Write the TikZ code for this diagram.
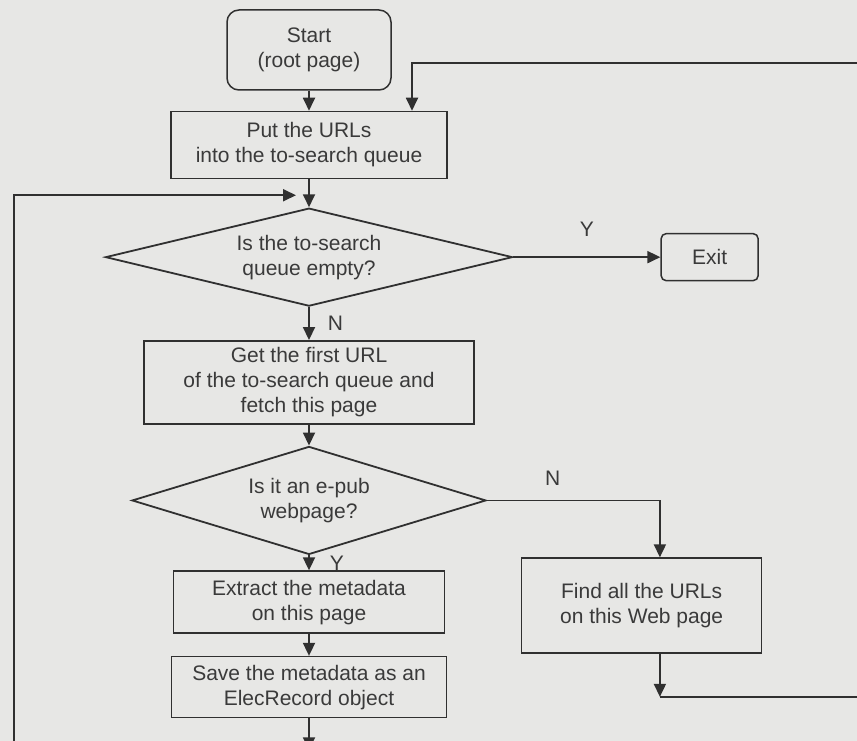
\documentclass[tikz,border=0pt]{standalone}
\usepackage{fontspec}
\setmainfont{Liberation Sans}
\usepackage{tikz}
\usetikzlibrary{shapes.geometric, arrows.meta, positioning, calc}
\definecolor{paperbg}{HTML}{E7E7E5}
\definecolor{inkline}{HTML}{303030}
\definecolor{inktext}{HTML}{3A3A3A}
\newcommand{\chartfont}{\fontsize{21}{25}\selectfont}
\tikzstyle{terminal} = [rectangle, rounded corners=12pt, draw=inkline, line width=1.5pt, inner sep=0pt, align=center, text=inktext, font=\chartfont]
\tikzstyle{process} = [rectangle, draw=inkline, line width=1.5pt, inner sep=0pt, align=center, text=inktext, font=\chartfont]
\tikzstyle{decision} = [diamond, draw=inkline, line width=1.8pt, inner sep=0pt, align=center, text=inktext, font=\chartfont]
\tikzstyle{arrow} = [line width=1.8pt, -{Triangle[length=13pt, width=12pt]}, color=inkline]
\tikzstyle{answer} = [inner sep=0pt, text=inktext, font=\chartfont]

\begin{document}
\begin{tikzpicture}[x=1pt, y=1pt]
    % Page
    \useasboundingbox[fill=paperbg] (0,0) rectangle (857,-741);
    \clip (0,0) rectangle (857,-741);

    % Nodes
    \node[terminal, minimum width=164pt, minimum height=80pt] (start) at (309,-50) {Start\\(root page)};
    \node[process, below=20pt of start, minimum width=276pt, minimum height=67pt] (put) {Put the URLs\\into the to-search queue};
    \node[decision, below=28pt of put, minimum width=407pt, minimum height=98pt, aspect=4.15] (empty) {Is the to-search\\queue empty?};
    \node[terminal, right=147pt of empty, rounded corners=5pt, minimum width=97pt, minimum height=47pt] (exit) {Exit};
    \node[process, below=33pt of empty, minimum width=330pt, minimum height=83pt] (fetch) {Get the first URL\\of the to-search queue and\\fetch this page};
    \node[decision, below=21pt of fetch, minimum width=354pt, minimum height=108pt, aspect=3.28] (epub) {Is it an e-pub\\webpage?};
    \node[process, below=15pt of epub, minimum width=271pt, minimum height=62pt] (extract) {Extract the metadata\\on this page};
    \node[process, below=22pt of extract, minimum width=275pt, minimum height=61pt] (save) {Save the metadata as an\\ElecRecord object};
    \node[process, anchor=north west, minimum width=240pt, minimum height=95pt] (find) at ($(epub.east |- epub.south)+(34,-2)$) {Find all the URLs\\on this Web page};

    % Loop points
    \coordinate (nturn) at ($(epub.east)+(173,0)$);
    \coordinate (findtip) at ($(nturn |- find.south)+(0,-43)$);
    \coordinate (toploop) at ($(put.north)+(103,48)$);
    \coordinate (savetip) at ($(save.south)+(0,-32)$);
    \coordinate (leftloop) at ($(empty.north)+(-295,12)$);
    \coordinate (jointip) at ($(empty.north)+(-13,12)$);

    % Arrows
    \draw[arrow] (start) -- (put);
    \draw[arrow] (put) -- (empty);
    \draw[arrow] (empty) -- node[answer, above=20pt] {Y} (exit);
    \draw[arrow] (empty) -- node[answer, right=18pt] {N} (fetch);
    \draw[arrow] (fetch) -- (epub);
    \draw[arrow] (epub) -- node[answer, right=20pt] {Y} (extract);
    \draw[arrow] (extract) -- (save);
    \draw[arrow] (epub.east) -- node[answer, pos=0.38, above=14pt] {N} (nturn) -- (nturn |- find.north);
    \draw[arrow] (nturn |- find.south) -- (findtip);
    \draw[arrow] (findtip) -- ++(230,0) |- (toploop) -- (toploop |- put.north);
    \draw[arrow] (save) -- (savetip);
    \draw[arrow] (savetip) -- ++(0,-20) -| (leftloop) -- (jointip);
\end{tikzpicture}
\end{document}
